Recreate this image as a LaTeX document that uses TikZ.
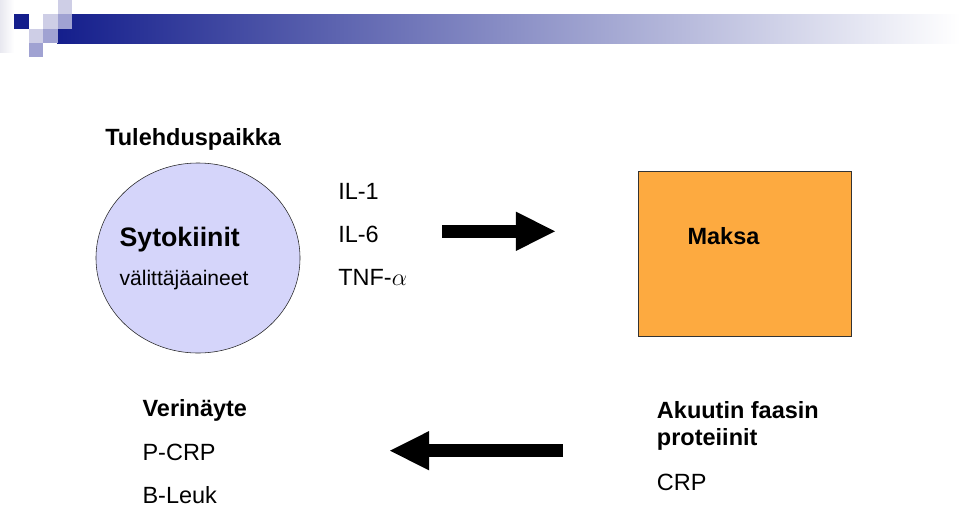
\documentclass[tikz,border=0pt]{standalone}
\usepackage{fontspec}
\setmainfont{Liberation Sans}
\usepackage{xcolor}
\usepackage{tikz}
\usetikzlibrary{shapes.geometric, arrows.meta, positioning}
\definecolor{hdrdark}{RGB}{20,30,140}
\definecolor{hdrmid}{RGB}{160,162,210}
\definecolor{hdrlight}{RGB}{206,206,230}
\definecolor{hdrpale}{RGB}{232,232,240}
\definecolor{sitefill}{RGB}{213,213,250}
\definecolor{organfill}{RGB}{253,170,64}
\tikzset{
    txt/.style={anchor=base west, inner sep=0pt, font=\fontsize{16.7}{20}\selectfont},
    boldtxt/.style={txt, font=\fontsize{16.7}{20}\selectfont\bfseries},
    site/.style={ellipse, draw=black!85, fill=sitefill, minimum width=5.1cm, minimum height=4.75cm, inner sep=0pt},
    organ/.style={rectangle, draw=black!80, fill=organfill, minimum width=5.32cm, minimum height=4.14cm},
    fatarrow/.style={line width=0.325cm, -{Triangle[length=0.975cm, width=0.98cm, line width=0pt]}}
}

\begin{document}
\begin{tikzpicture}[x=0.025cm, y=-0.025cm]
    \useasboundingbox (0,0) rectangle (960,507);

    % header band
    \shade[left color=hdrpale, right color=white] (0,0) rectangle (14,52);
    \shade[left color=hdrdark, right color=white] (57,14) rectangle (960,43);
    \fill[hdrdark] (14,14) rectangle (28.5,28.5);
    \fill[hdrlight] (57.5,0) rectangle (72,14);
    \fill[hdrlight] (43,14) rectangle (57.5,28.5);
    \fill[hdrlight] (29,28.5) rectangle (43,43);
    \fill[hdrmid] (57.5,14) rectangle (72,28.5);
    \fill[hdrmid] (43,28.5) rectangle (57.5,43);
    \fill[hdrmid] (29,43) rectangle (43,57);

    % inflammation site
    \node (tulehdus) [boldtxt] at (105,145) {Tulehduspaikka};
    \node (site) [site] at (198,258) {};
    \node (sytok) [boldtxt, font=\fontsize{19}{22}\selectfont\bfseries] at (119.3,246.7) {Sytokiinit};
    \node (valitt) [txt, font=\fontsize{15}{18}\selectfont] at (119.3,285) {välittäjäaineet};

    \node (il1) [txt] at (338,199) {IL-1};
    \node (il6) [txt] at (338,242) {IL-6};
    \node (tnf) [txt] at (338,285) {TNF-$\alpha$};

    % liver
    \node (liver) [organ] at (744.7,253.9) {};
    \node (maksa) [boldtxt] at (687.3,244) {Maksa};

    % blood sample
    \node (verin) [boldtxt] at (142.3,416.7) {Verinäyte};
    \node (pcrp) [txt] at (142.3,460) {P-CRP};
    \node (bleuk) [txt] at (142.3,503.3) {B-Leuk};

    \node (akuut) [boldtxt] at (656.7,418.3) {Akuutin faasin};
    \node (prot) [boldtxt] at (656.7,445.5) {proteiinit};
    \node (crp) [txt] at (656.7,490) {CRP};

    % arrows
    \coordinate (r1) at (442,231.3);
    \coordinate (r2) at (555,231.3);
    \coordinate (l1) at (563,450.7);
    \coordinate (l2) at (390,450.7);
    \draw[fatarrow] (r1) -- (r2);
    \draw[fatarrow] (l1) -- (l2);
\end{tikzpicture}
\end{document}
